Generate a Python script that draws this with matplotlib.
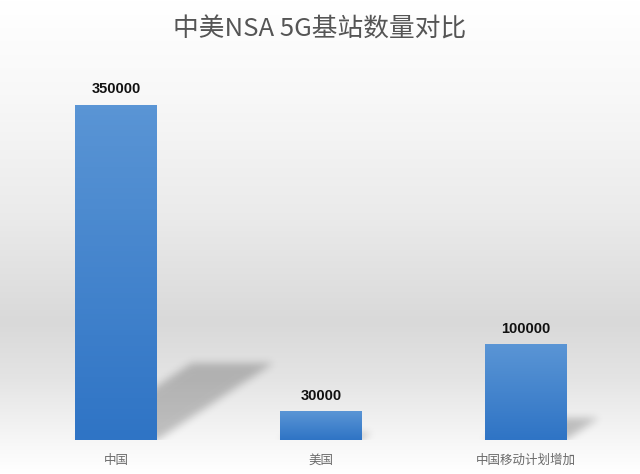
import numpy as np
import matplotlib
matplotlib.use("Agg")
import matplotlib.pyplot as plt
from matplotlib.colors import LinearSegmentedColormap

plt.rcParams["font.family"] = ["Noto Sans CJK SC", "DejaVu Sans"]

# ---- data ----
categories = ["中国", "美国", "中国移动计划增加"]
values = [350000, 30000, 100000]
title = "中美NSA 5G基站数量对比"

W, H, DPI = 640, 474, 100
fig = plt.figure(figsize=(W / DPI, H / DPI), dpi=DPI)

# background: white at top, grey "floor" band, back to white at bottom
bg = fig.add_axes([0, 0, 1, 1], zorder=-10)
bg.axis("off")
stops = [(0.0, "#ffffff"), (0.20, "#f8f8f8"), (0.45, "#ebebeb"), (0.68, "#d9d9d9"),
         (0.80, "#e4e4e4"), (0.92, "#f5f5f5"), (1.0, "#ffffff")]
bg_cmap = LinearSegmentedColormap.from_list("bg", stops)
bg.imshow(np.linspace(0, 1, 256)[:, None], aspect="auto", cmap=bg_cmap,
          extent=[0, 1, 0, 1], origin="upper")
bg.set_xlim(0, 1); bg.set_ylim(0, 1)

ax = fig.add_axes([14 / W, 34 / H, 614 / W, 383 / H])
ax.patch.set_alpha(0)
x = np.arange(len(categories))
ax.set_xlim(-0.5, len(categories) - 0.5)
ax.set_ylim(0, 400000)
for s in ax.spines.values():
    s.set_visible(False)
ax.set_yticks([])
ax.set_xticks(x)
ax.set_xticklabels(categories, fontsize=9, color="#6a6a6a")
ax.tick_params(length=0, pad=10)

bars = ax.bar(x, values, width=0.4, color="#3f82cc", zorder=3)

# soft sheared shadows behind each bar, rendered as a blurred mask
nx, ny = 614, 383
gx = np.linspace(-0.5, len(categories) - 0.5, nx)
gy = np.linspace(0, 400000, ny)
XX, YY = np.meshgrid(gx, gy)
mask = np.zeros_like(XX)
for b, v in zip(bars, values):
    xl, xr = b.get_x(), b.get_x() + b.get_width()
    top = 0.23 * v
    shift = 1.63e-6 * v
    t = YY / top
    inside = (YY >= 0) & (YY <= top) & (XX >= xl + t * shift) & (XX <= xr + t * shift)
    mask = np.maximum(mask, inside.astype(float))
sig = 4.0
k = np.exp(-0.5 * (np.arange(-12, 13) / sig) ** 2)
k /= k.sum()
mask = np.apply_along_axis(lambda r: np.convolve(r, k, mode="same"), 1, mask)
mask = np.apply_along_axis(lambda c: np.convolve(c, k, mode="same"), 0, mask)
shadow = np.zeros((ny, nx, 4))
shadow[..., 3] = mask * 0.22
ax.imshow(shadow, extent=[gx[0], gx[-1], 0, 400000], origin="lower", aspect="auto",
          zorder=1, interpolation="bilinear")

# vertical blue gradient inside each bar
bar_cmap = LinearSegmentedColormap.from_list("bar", ["#2f74c5", "#5a95d5"])
for b in bars:
    im = ax.imshow(np.linspace(0, 1, 64)[:, None], cmap=bar_cmap, aspect="auto",
                   extent=[b.get_x(), b.get_x() + b.get_width(), 0, b.get_height()],
                   origin="lower", zorder=4)
    im.set_clip_path(b)

for b, v in zip(bars, values):
    ax.text(b.get_x() + b.get_width() / 2, v + 9000, str(v), ha="center", va="bottom",
            fontsize=10.5, fontweight="bold", color="#111111",
            family=["Liberation Sans", "DejaVu Sans"], zorder=5)

ax.set_xlim(-0.5, len(categories) - 0.5)
ax.set_ylim(0, 400000)

fig.text(0.5, 1 - 30 / H, title, ha="center", va="center", fontsize=18.5, color="#555555")

fig.savefig("out.png", dpi=DPI)
